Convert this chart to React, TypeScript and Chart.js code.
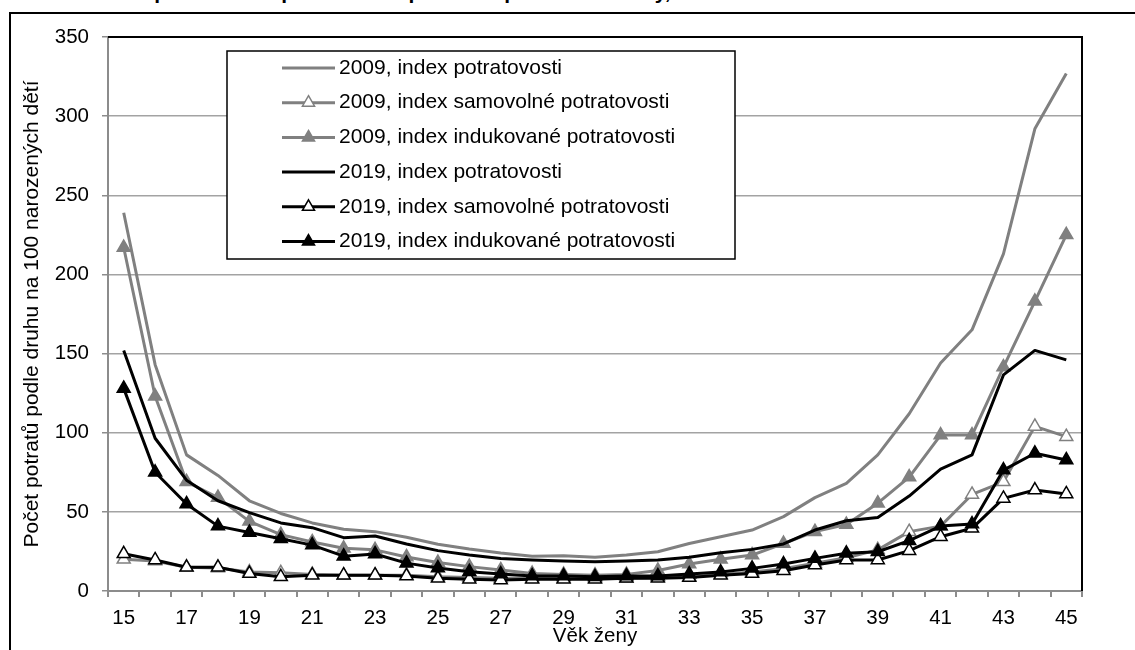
import React, { useEffect, useRef } from 'react';
import { Chart, registerables } from 'chart.js';

Chart.register(...registerables);

// ---- data ----
const categories = [
  '15', '16', '17', '18', '19', '20', '21', '22', '23', '24', '25', '26', '27', '28', '29', '30',
  '31', '32', '33', '34', '35', '36', '37', '38', '39', '40', '41', '42', '43', '44', '45',
];

const seriesNames = [
  '2009, index potratovosti',
  '2009, index samovolné potratovosti',
  '2009, index indukované potratovosti',
  '2019, index potratovosti',
  '2019, index samovolné potratovosti',
  '2019, index indukované potratovosti',
];

const idx2009 = [239, 143, 86, 73, 57, 49, 43, 39, 37.5, 34, 29.5, 26.5, 24, 22, 22.3, 21.3, 22.7, 24.8, 30, 34.3, 38.5, 47, 59, 68, 86, 112, 144, 165, 213, 292, 327];
const samo2009 = [20, 19, 15, 14.5, 12, 11.5, 10.5, 10, 10, 10, 9, 8.5, 8, 8, 8, 8, 8, 8.5, 9, 10.5, 12, 14, 17.5, 21, 26, 37.5, 41, 61, 69, 104, 97.5];
const ind2009 = [217, 123, 69, 59, 44, 35.6, 31, 27, 26, 21.5, 18, 15.4, 13.3, 11, 10.5, 10, 10.5, 13, 17, 20, 22.7, 30, 37.5, 42, 55.5, 72, 98.5, 98.5, 141.5, 183, 225];
const idx2019 = [152, 96.5, 70, 57, 49.5, 43, 40, 33.7, 34.7, 29.7, 25.5, 22.7, 20.6, 19.6, 19, 18.5, 19, 19.6, 21.3, 24.2, 26.3, 29.7, 38.5, 44.4, 46.5, 60, 77, 86, 136.5, 152, 146];
const samo2019 = [23.5, 19.6, 15, 15, 11, 9, 10, 10, 10, 9.5, 8, 7.5, 7, 7.5, 7.5, 7.5, 8, 8, 8.5, 10, 11, 12.8, 16.4, 19.6, 19.6, 25.5, 34.3, 39.6, 58.5, 63.8, 61.3];
const ind2019 = [128, 75, 55, 41, 37, 33, 29, 22, 23.4, 17.6, 14.5, 12.2, 10.7, 9.5, 9.5, 9, 9.5, 9.5, 10.7, 12, 14.3, 17, 20.6, 23.8, 24.8, 31.8, 41, 42.3, 76.4, 87, 82.8];

const yTitle = 'Počet potratů podle druhu na 100 narozených dětí';
const xTitle = 'Věk ženy';
const pageTitle = 'Graf 8: Index potratovosti podle druhu potratu a podle věku ženy, 2009 a 2019';

// ---- styles ----
const FONT = '"Liberation Sans", Arial, sans-serif';
const GRAY = '#808080';
const BLACK = '#000000';
const WHITE = '#ffffff';
const GRID = '#a3a3a3';
const AXIS = '#8c8c8c';

function triPath(ctx: CanvasRenderingContext2D, x: number, y: number, r: number) {
  ctx.beginPath();
  let rad = 0;
  for (let k = 0; k < 3; k++) {
    const px = x + Math.sin(rad) * r;
    const py = y - Math.cos(rad) * r;
    if (k === 0) ctx.moveTo(px, py);
    else ctx.lineTo(px, py);
    rad += (2 * Math.PI) / 3;
  }
  ctx.closePath();
}

const boxLegend = {
  id: 'boxLegend',
  afterDraw(chart: any) {
    const ctx: CanvasRenderingContext2D = chart.ctx;
    const ca = chart.chartArea;
    ctx.save();
    // plot area border (top & right)
    ctx.strokeStyle = BLACK;
    ctx.lineWidth = 2;
    ctx.beginPath();
    ctx.moveTo(ca.left, ca.top);
    ctx.lineTo(ca.right, ca.top);
    ctx.lineTo(ca.right, ca.bottom);
    ctx.stroke();

    // legend box
    const x0 = ca.left + 119;
    const y0 = ca.top + 14;
    const w = 508;
    const h = 208;
    ctx.fillStyle = WHITE;
    ctx.fillRect(x0, y0, w, h);
    ctx.lineWidth = 1.5;
    ctx.strokeStyle = BLACK;
    ctx.strokeRect(x0, y0, w, h);

    ctx.font = `21px ${FONT}`;
    ctx.textBaseline = 'middle';
    ctx.textAlign = 'left';
    chart.data.datasets.forEach((ds: any, i: number) => {
      const cy = y0 + 17 + i * 34.7;
      ctx.strokeStyle = ds.borderColor;
      ctx.lineWidth = 3;
      ctx.beginPath();
      ctx.moveTo(x0 + 55, cy);
      ctx.lineTo(x0 + 108, cy);
      ctx.stroke();
      if (ds.pointRadius > 0) {
        triPath(ctx, x0 + 81.5, cy, 7);
        ctx.fillStyle = ds.pointBackgroundColor;
        ctx.fill();
        ctx.lineWidth = 1.5;
        ctx.strokeStyle = ds.pointBorderColor;
        ctx.stroke();
      }
      ctx.fillStyle = BLACK;
      ctx.fillText(ds.label, x0 + 112, cy);
    });
    ctx.restore();
  },
};

export default function App() {
  const canvasRef = useRef<HTMLCanvasElement | null>(null);

  useEffect(() => {
    const canvas = canvasRef.current;
    if (!canvas) return;

    const base = [
      { data: idx2009, borderColor: GRAY, pointRadius: 0, pointBackgroundColor: GRAY, pointBorderColor: GRAY },
      { data: samo2009, borderColor: GRAY, pointRadius: 7.5, pointBackgroundColor: WHITE, pointBorderColor: GRAY },
      { data: ind2009, borderColor: GRAY, pointRadius: 7.5, pointBackgroundColor: GRAY, pointBorderColor: GRAY },
      { data: idx2019, borderColor: BLACK, pointRadius: 0, pointBackgroundColor: BLACK, pointBorderColor: BLACK },
      { data: samo2019, borderColor: BLACK, pointRadius: 7.5, pointBackgroundColor: WHITE, pointBorderColor: BLACK },
      { data: ind2019, borderColor: BLACK, pointRadius: 7.5, pointBackgroundColor: BLACK, pointBorderColor: BLACK },
    ];

    const datasets = base.map((d, i) => ({
      ...d,
      label: seriesNames[i],
      order: base.length - 1 - i,
      borderWidth: 3,
      tension: 0,
      fill: false,
      pointStyle: 'triangle',
      pointBorderWidth: 1.5,
      pointHoverRadius: d.pointRadius,
      borderJoinStyle: 'round',
    }));

    const chart = new Chart(canvas, {
      type: 'line',
      data: { labels: categories, datasets: datasets as any },
      options: {
        animation: false,
        responsive: false,
        devicePixelRatio: 1,
        events: [],
        layout: { padding: { left: 16, top: 37, right: 53, bottom: 0 } },
        plugins: {
          legend: { display: false },
          tooltip: { enabled: false },
          title: { display: false },
        },
        scales: {
          x: {
            type: 'category',
            offset: true,
            grid: {
              offset: true,
              drawOnChartArea: false,
              drawTicks: true,
              tickLength: 6,
              color: AXIS,
              lineWidth: 2,
            },
            border: { display: true, color: AXIS, width: 2 },
            ticks: {
              autoSkip: false,
              maxRotation: 0,
              minRotation: 0,
              padding: 9,
              color: BLACK,
              font: { family: FONT, size: 20.5 },
              callback: (_v: any, i: number) => (i % 2 === 0 ? categories[i] : ''),
            },
            title: {
              display: true,
              text: xTitle,
              color: BLACK,
              font: { family: FONT, size: 20.5 },
              padding: { top: 0, bottom: 1 },
            },
            afterFit: (s: any) => {
              s.height = 59;
            },
          },
          y: {
            min: 0,
            max: 350,
            ticks: {
              stepSize: 50,
              padding: 13,
              color: BLACK,
              font: { family: FONT, size: 20.5 },
            },
            grid: {
              color: GRID,
              lineWidth: 1.5,
              drawTicks: true,
              tickLength: 6,
              tickColor: AXIS,
            },
            border: { display: true, color: AXIS, width: 2 },
            title: {
              display: true,
              text: yTitle,
              color: BLACK,
              font: { family: FONT, size: 21 },
              padding: { top: 4, bottom: 0 },
            },
            afterFit: (s: any) => {
              s.width = 92;
            },
          },
        },
      } as any,
      plugins: [boxLegend],
    });

    return () => {
      chart.destroy();
    };
  }, []);

  return (
    <div style={{ position: 'absolute', left: 0, top: 0, width: 1135, height: 650, overflow: 'hidden', background: WHITE }}>
      <div
        style={{
          position: 'absolute',
          left: 20,
          top: -20,
          whiteSpace: 'nowrap',
          fontFamily: FONT,
          fontWeight: 'bold',
          fontSize: 21,
          color: BLACK,
        }}
      >
        {pageTitle}
      </div>
      <div
        style={{
          position: 'absolute',
          left: 9,
          top: 12,
          width: 1126,
          height: 638,
          boxSizing: 'border-box',
          borderLeft: '2px solid #000',
          borderTop: '2px solid #000',
        }}
      />
      <canvas
        ref={canvasRef}
        width={1135}
        height={650}
        style={{ position: 'absolute', left: 0, top: 0, width: 1135, height: 650, display: 'block' }}
      />
    </div>
  );
}
